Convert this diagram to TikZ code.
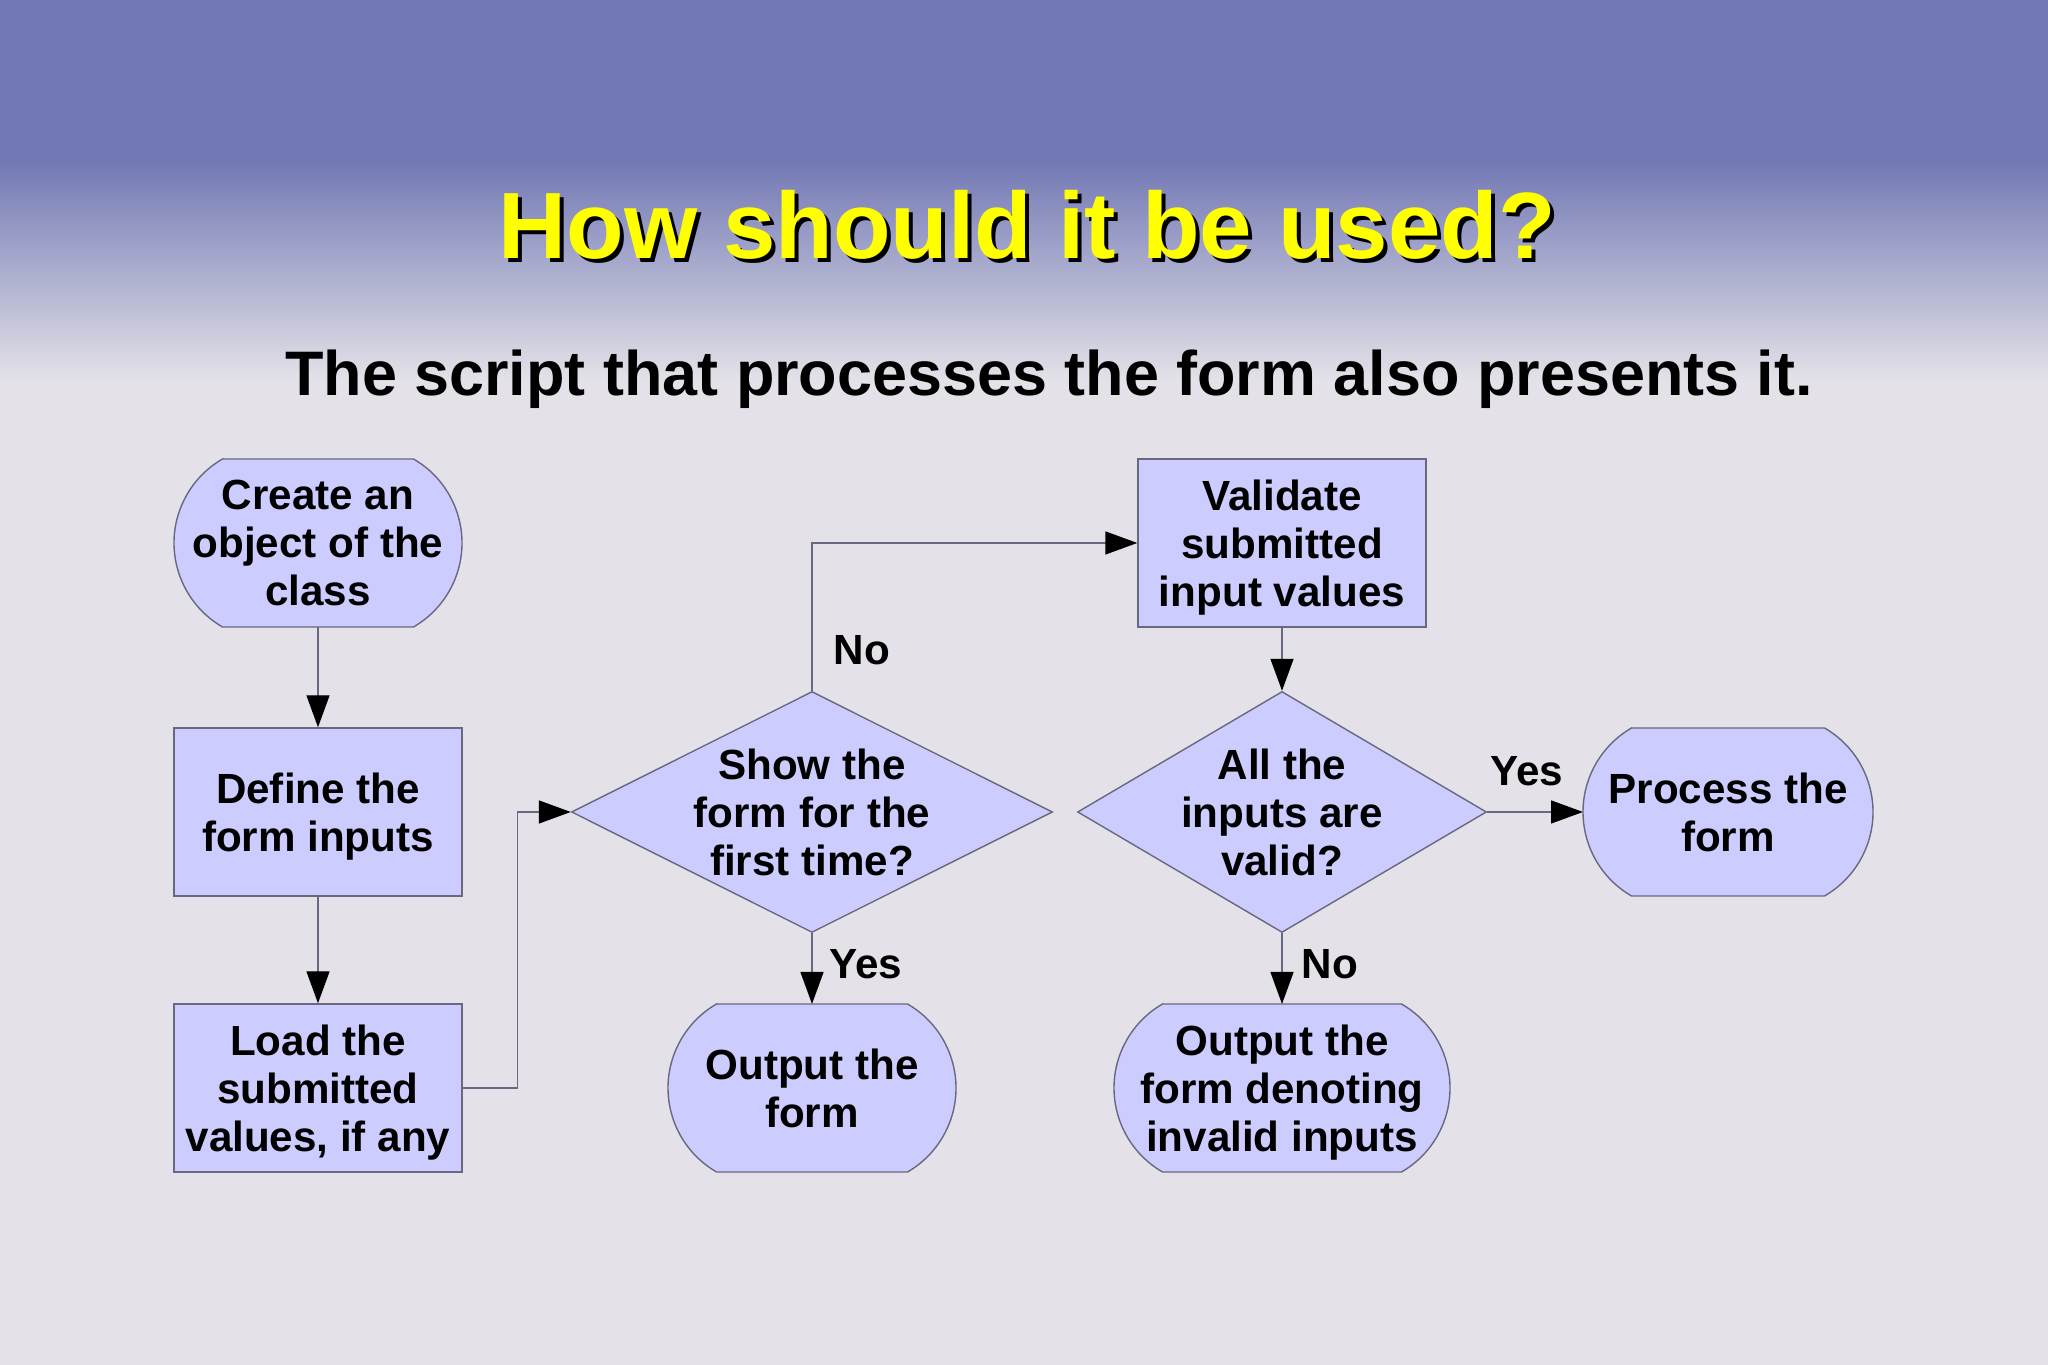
\documentclass[tikz,border=0pt]{standalone}
\usepackage{fontspec}
\setmainfont{Liberation Sans}
\usetikzlibrary{shapes.geometric,arrows.meta}
\definecolor{topcol}{HTML}{7278B4}
\definecolor{bgcol}{HTML}{E4E2E8}
\definecolor{nodefill}{HTML}{CCCCFF}
\definecolor{edgecol}{HTML}{686880}
\definecolor{titleyellow}{HTML}{FFFF00}
\pgfdeclarelayer{bglayer}
\pgfdeclarelayer{shapelayer}
\pgfsetlayers{bglayer,shapelayer,main}
\begin{document}
\begin{tikzpicture}[x=0.1mm,y=0.1mm,
  nodefont/.style={font=\fontsize{12}{13.6}\selectfont\bfseries},
  box/.style={rectangle, draw=edgecol, fill=nodefill, line width=0.4pt,
    minimum width=28.8mm, minimum height=16.8mm, inner sep=1mm, align=center, text depth=0pt, nodefont},
  term/.style={box, draw=none, fill=none, outer sep=0pt},
  termshape/.style={draw=edgecol, fill=nodefill, line width=0.4pt},
  dec/.style={box, diamond, inner sep=-0.5mm, minimum width=48.1mm, minimum height=24.1mm, aspect=2},
  conn/.style={draw=edgecol, line width=0.4pt, -{Triangle[length=3.2mm,width=2.3mm,color=black]}},
  lbl/.style={nodefont, inner sep=0pt}]
\useasboundingbox (0,0) rectangle (2048,1365);
% background
\begin{pgfonlayer}{bglayer}
\fill[topcol] (0,1204) rectangle (2048,1365);
\shade[top color=topcol, bottom color=bgcol] (0,984) rectangle (2048,1205);
\fill[bgcol] (0,0) rectangle (2048,985);
\end{pgfonlayer}
% titles
\node[anchor=base, text=black, font=\fontsize{26.8}{32}\selectfont\bfseries] (titleshadow) at (1031,1102) {How should it be used?};
\node[anchor=base, text=titleyellow, font=\fontsize{26.8}{32}\selectfont\bfseries] (title) at (1027,1106) {How should it be used?};
\node[anchor=base, text=black, font=\fontsize{17.9}{21}\selectfont\bfseries] (subtitle) at (1049,969) {The script that processes the form also presents it.};
% nodes
\node[term] (create) at (318,822) {Create an\\object of the\\class};
\node[box] (define) at (318,553) {Define the\\form inputs};
\node[box] (load) at (318,277) {Load the\\submitted\\values, if any};
\node[dec] (show) at (812,553) {Show the\\form for the\\first time?};
\node[term] (outform) at (812,277) {Output the\\form};
\node[box] (validate) at (1282,822) {Validate\\submitted\\input values};
\node[dec, aspect=1.7, minimum width=40.9mm] (valid) at (1282,553) {All the\\inputs are\\valid?};
\node[term, minimum width=29mm] (process) at (1728,553) {Process the\\form};
\node[term, minimum width=33.6mm] (outinvalid) at (1282,277) {Output the\\form denoting\\invalid inputs};
% terminator outlines (under the texts)
\begin{pgfonlayer}{shapelayer}
\foreach \n in {create,outform,process,outinvalid}{
  \draw[termshape] ([xshift=4.85mm]\n.north west) -- ([xshift=-4.85mm]\n.north east)
    arc[start angle=60, end angle=-60, radius=9.7mm]
    -- ([xshift=4.85mm]\n.south west)
    arc[start angle=240, end angle=120, radius=9.7mm] -- cycle;
}
\end{pgfonlayer}
% connectors
\draw[conn] (create) -- (define);
\draw[conn] (define) -- (load);
\draw[conn] (load.east) -- ([xshift=5.5mm]load.east) |- (show.west);
\draw[conn] (show.north) |- (validate.west);
\draw[conn] (show.south) -- (outform.north);
\draw[conn] (validate) -- (valid);
\draw[conn] (valid.east) -- (process.west);
\draw[conn] (valid.south) -- (outinvalid.north);
% labels
\node[lbl] (noA) at (862,715) {No};
\node[lbl] (yesA) at (866,401) {Yes};
\node[lbl] (yesB) at (1527,594) {Yes};
\node[lbl] (noB) at (1330,401) {No};
\end{tikzpicture}
\end{document}
